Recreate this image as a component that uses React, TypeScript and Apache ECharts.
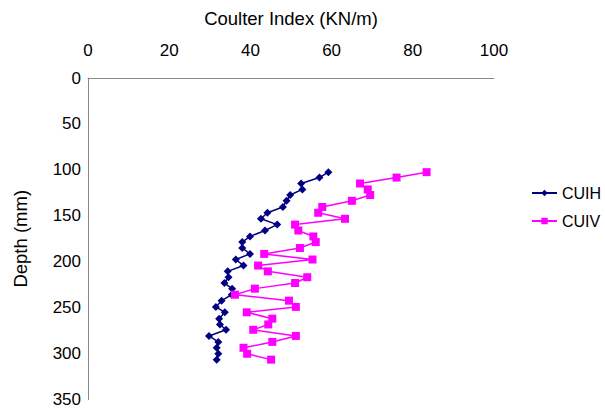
import React, { useEffect, useRef } from "react";
import * as echarts from "echarts";

const depths = [102.5, 108.4, 114.8, 121.3, 127.4, 133.7, 140.4, 146.7, 153.3, 159.6, 166.0, 172.5, 178.6, 185.1, 191.5, 197.6, 204.2, 210.5, 216.9, 223.2, 229.3, 235.9, 242.4, 249.2, 255.1, 262.0, 268.3, 274.1, 280.8, 287.3, 293.7, 300.2, 306.6];
const cuih = [59.2, 57.0, 52.5, 52.8, 49.8, 48.9, 48.0, 44.2, 42.6, 46.6, 43.6, 39.9, 38.0, 38.0, 39.9, 36.4, 38.3, 34.4, 34.6, 33.6, 35.5, 35.4, 32.9, 31.5, 33.7, 32.3, 32.5, 34.0, 29.8, 32.1, 31.7, 32.1, 31.7];
const cuiv = [83.4, 76.0, 67.0, 68.9, 69.5, 65.0, 57.7, 56.7, 63.3, 51.0, 51.8, 55.5, 56.1, 52.2, 43.4, 55.3, 41.9, 44.3, 54.0, 51.0, 41.1, 36.2, 49.5, 51.2, 39.1, 45.4, 44.4, 40.7, 51.2, 45.4, 38.3, 39.2, 45.1];
const seriesNames = ["CUIH", "CUIV"];
const xTitle = "Coulter Index (KN/m)";
const yTitle = "Depth (mm)";

export default function App() {
  const ref = useRef<HTMLDivElement>(null);
  useEffect(() => {
    if (!ref.current) return;
    const chart = echarts.init(ref.current, null, { renderer: "svg" });
    const font = "Liberation Sans, Arial, sans-serif";
    chart.setOption({
      animation: false,
      backgroundColor: "#ffffff",
      textStyle: { fontFamily: font },
      grid: { left: 88, top: 78, width: 406, height: 322 },
      legend: {
        orient: "vertical",
        left: 531,
        top: 185,
        padding: 0,
        itemWidth: 25,
        itemHeight: 8,
        itemGap: 12,
        textStyle: { fontSize: 16, color: "#000", fontFamily: font },
        data: seriesNames,
      },
      xAxis: {
        type: "value",
        position: "top",
        min: 0,
        max: 100,
        interval: 20,
        name: xTitle,
        nameLocation: "middle",
        nameGap: 50,
        nameTextStyle: { fontSize: 18.5, color: "#000", fontFamily: font },
        axisLine: { show: true, lineStyle: { color: "#888888", width: 1 } },
        axisTick: { show: false },
        splitLine: { show: false },
        axisLabel: { fontSize: 17, color: "#000", margin: 19, fontFamily: font },
      },
      yAxis: {
        type: "value",
        inverse: true,
        min: 0,
        max: 350,
        interval: 50,
        name: yTitle,
        nameLocation: "middle",
        nameGap: 58,
        nameRotate: 90,
        nameTextStyle: { fontSize: 18.5, color: "#000", fontFamily: font },
        axisLine: { show: true, lineStyle: { color: "#888888", width: 1 } },
        axisTick: { show: false },
        splitLine: { show: false },
        axisLabel: { fontSize: 17, color: "#000", margin: 7, fontFamily: font },
      },
      series: [
        {
          name: seriesNames[0],
          type: "line",
          data: depths.map((d, i) => [cuih[i], d]),
          symbol: "diamond",
          symbolSize: 8,
          itemStyle: { color: "#000080" },
          lineStyle: { color: "#000080", width: 1.5 },
        },
        {
          name: seriesNames[1],
          type: "line",
          data: depths.map((d, i) => [cuiv[i], d]),
          symbol: "rect",
          symbolSize: 8,
          itemStyle: { color: "#ff00ff" },
          lineStyle: { color: "#ff00ff", width: 1.5 },
        },
      ],
    });
    return () => chart.dispose();
  }, []);
  return (
    <div
      ref={ref}
      style={{ position: "fixed", left: 0, top: 0, width: 605, height: 408 }}
    />
  );
}
